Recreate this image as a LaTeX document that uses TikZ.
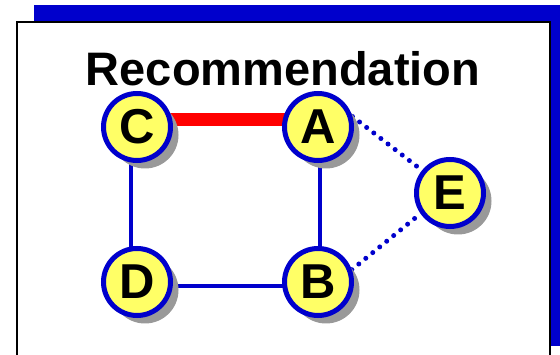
\documentclass[tikz,border=0pt]{standalone}
\usepackage{fontspec}
\setmainfont{Liberation Sans}
\usepackage{tikz}
\usetikzlibrary{shadows,backgrounds}
\usepackage{xcolor}
\definecolor{myblue}{HTML}{0000CC}
\definecolor{myyellow}{HTML}{FFFF66}
\definecolor{shadowgray}{HTML}{999999}
\tikzstyle{vertex}=[circle,draw=myblue,fill=myyellow,line width=5pt,minimum size=67pt,inner sep=0pt,
  font=\fontsize{49}{54}\selectfont\bfseries,
  drop shadow={shadow xshift=8pt,shadow yshift=-8pt,fill=shadowgray,opacity=1}]
\tikzstyle{edge}=[myblue,line width=4pt]
\tikzstyle{pick}=[red,line width=13pt]
\tikzstyle{maybe}=[myblue,line width=5pt,line cap=round,dash pattern=on 0pt off 9pt]

\begin{document}
\begin{tikzpicture}[x=1pt,y=-1pt]
	\useasboundingbox (0,0) rectangle (560,355);
	\node[anchor=base,font=\fontsize{47}{52}\selectfont\bfseries] at (283,86) (title) {Recommendation};

	\node[vertex] at (137,127) (C) {C};
	\node[vertex] at (318,127) (A) {A};
	\node[vertex] at (137,282) (D) {D};
	\node[vertex] at (318,282) (B) {B};
	\node[vertex] at (450,193) (E) {E};

	\begin{scope}[on background layer]
		\fill[myblue] (34,5) rectangle (560,346);
		\draw[line width=2pt,fill=white] (17,22) rectangle (550,370);

		\draw[pick] ([yshift=7pt]C.center) -- ([yshift=7pt]A.center);
		\draw[edge] ([xshift=-6pt]C.center) -- ([xshift=-6pt]D.center);
		\draw[edge] ([yshift=-4pt]D.center) -- ([yshift=-4pt]B.center);
		\draw[edge] ([xshift=2pt]A.center) -- ([xshift=2pt]B.center);
		\draw[maybe] (A.17) -- (E.141);
		\draw[maybe] (B.20) -- (E.215);
	\end{scope}
\end{tikzpicture}
\end{document}
